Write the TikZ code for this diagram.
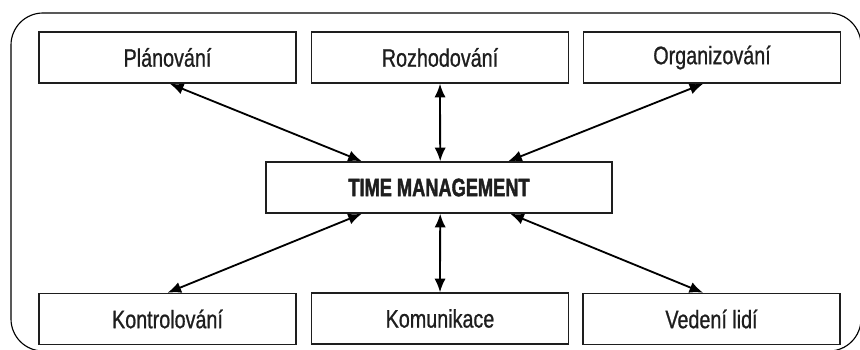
\documentclass[tikz,border=0pt]{standalone}
\usepackage{fontspec}
\setmainfont{Liberation Sans}[FakeStretch=0.78, FakeBold=0.8]
\newfontfamily\tmfont{Liberation Sans Bold}[FakeStretch=0.72, FakeBold=1.6]
\definecolor{inkgray}{RGB}{30, 30, 30}
\usetikzlibrary{arrows.meta}

\begin{document}
\begin{tikzpicture}[x=0.025cm, y=0.025cm,
    box/.style={draw=inkgray, line width=0.9pt, minimum width=6.42cm, minimum height=1.28cm,
      inner sep=0pt, text=inkgray, font=\fontsize{18}{20}\selectfont},
    arr/.style={{Latex[length=3.4mm,width=2.8mm]}-{Latex[length=3.4mm,width=2.8mm]}, line width=1.3pt, draw=black}]
        \clip (0,0) rectangle (860,349);

        % Outer frame
        \draw[line width=0.8pt, rounded corners=0.8cm] (11,336) rectangle (861,-2);

        % Top row
        \node[box] (plan) at (167.5,291.5) {Plánování};
        \node[box] (rozh) at (440,291.5) {Rozhodování};
        \node[box] (org) at (712,291.5) {Organizování};

        % Centre
        \node[box, minimum width=8.65cm, font=\fontsize{18}{20}\tmfont] (tm) at (439,161.5) {TIME MANAGEMENT};

        % Bottom row
        \node[box] (kontr) at (167.5,30) {Kontrolování};
        \node[box] (komun) at (440,30.5) {Komunikace};
        \node[box] (vedeni) at (711.5,30) {Vedení lidí};

        % Links
        \draw[arr] ([xshift=0.06cm]plan.south) -- ([xshift=-1.93cm]tm.north);
        \draw[arr] (rozh.south) -- ([xshift=0.03cm]tm.north);
        \draw[arr] ([xshift=-0.22cm]org.south) -- ([xshift=1.73cm]tm.north);
        \draw[arr] (kontr.north) -- ([xshift=-1.93cm]tm.south);
        \draw[arr] (komun.north) -- ([xshift=0.03cm]tm.south);
        \draw[arr] ([xshift=-0.21cm]vedeni.north) -- ([xshift=1.78cm]tm.south);
      \end{tikzpicture}
\end{document}
